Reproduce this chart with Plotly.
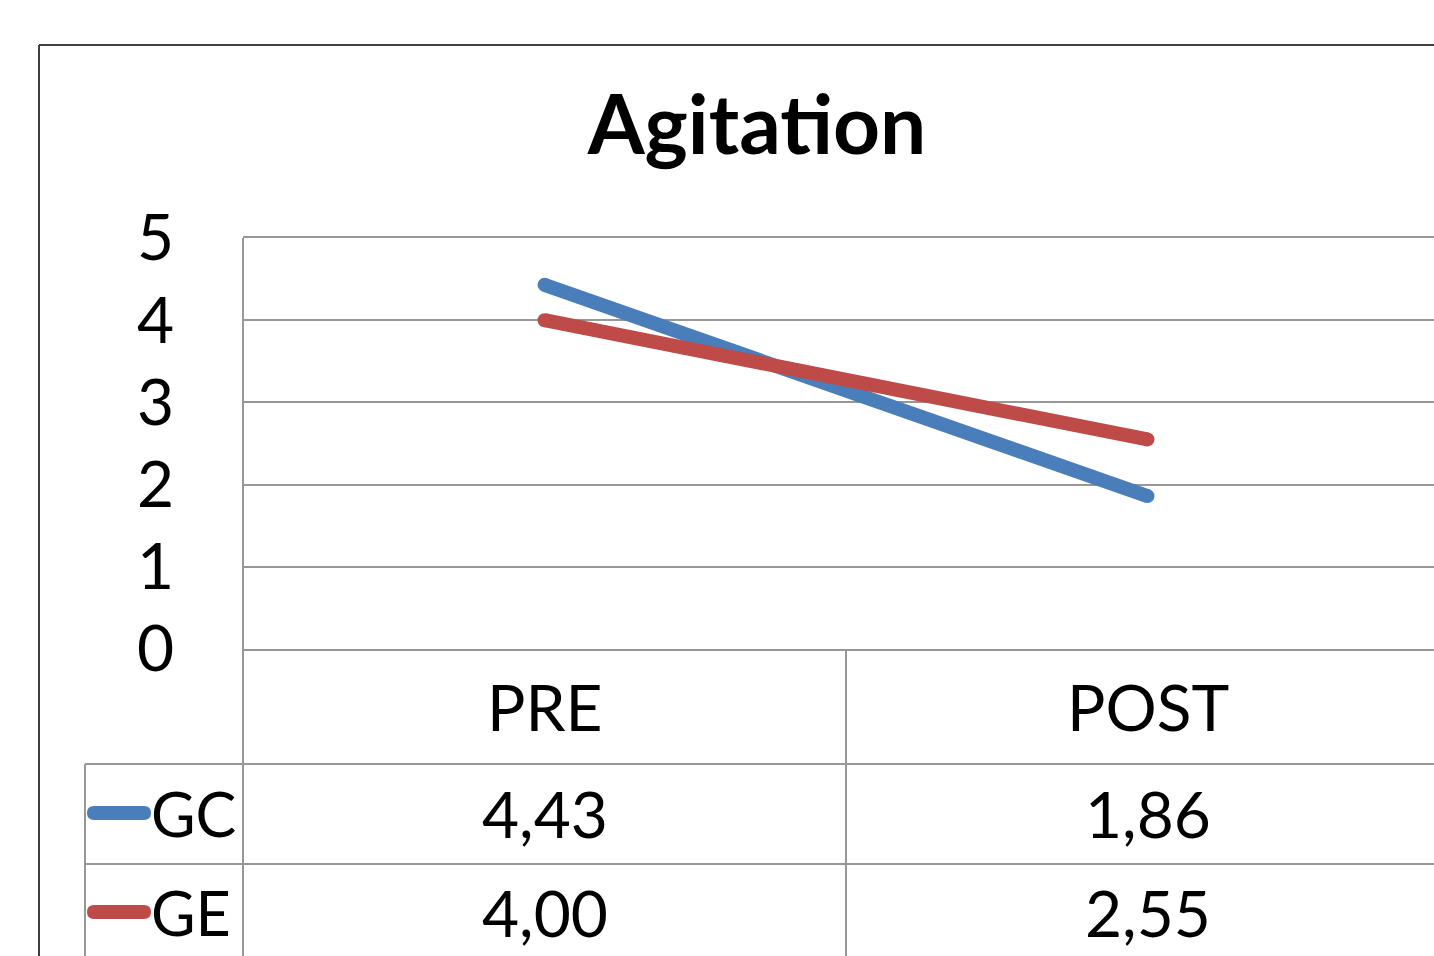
import plotly.graph_objects as go

# ---- data ----
categories = ["PRE", "POST"]
series_names = ["GC", "GE"]
gc_values = [4.43, 1.86]
ge_values = [4.00, 2.55]
y_ticks = [0, 1, 2, 3, 4, 5]
title_text = "Agitation"

colors = {"GC": "#4A7EBB", "GE": "#BE4B48"}
FONT = "Lato, 'Open Sans', sans-serif"
GRID = "#979797"

W, H = 1434, 956
L, T = 243, 238
PLOT_BOTTOM = 649
B = H - PLOT_BOTTOM
PW = W - L
PH = PLOT_BOTTOM - T


def px_x(px):
    return (px - L) / PW


def px_y(py):
    return (PLOT_BOTTOM - py) / PH


fig = go.Figure()
values = {"GC": gc_values, "GE": ge_values}
for name in series_names:
    fig.add_trace(go.Scatter(
        x=categories, y=values[name], name=name, mode="lines+markers",
        line=dict(color=colors[name], width=14),
        marker=dict(color=colors[name], size=14, line=dict(width=0)),
        showlegend=False, hoverinfo="skip",
    ))

shapes = []
# outer chart border (left + top)
shapes.append(dict(type="line", xref="paper", yref="paper",
                   x0=px_x(39), x1=px_x(39), y0=px_y(45), y1=px_y(H + 20),
                   line=dict(color="#404040", width=2)))
shapes.append(dict(type="line", xref="paper", yref="paper",
                   x0=px_x(39), x1=px_x(W + 20), y0=px_y(45), y1=px_y(45),
                   line=dict(color="#404040", width=2)))
# data table grid
shapes.append(dict(type="line", xref="paper", yref="paper",
                   x0=0, x1=0, y0=1, y1=px_y(H + 20),
                   line=dict(color=GRID, width=2)))
shapes.append(dict(type="line", xref="paper", yref="paper",
                   x0=px_x(846), x1=px_x(846), y0=0, y1=px_y(H + 20),
                   line=dict(color=GRID, width=2)))
shapes.append(dict(type="line", xref="paper", yref="paper",
                   x0=px_x(85), x1=px_x(85), y0=px_y(764), y1=px_y(H + 20),
                   line=dict(color=GRID, width=2)))
for row_y in (764, 864):
    shapes.append(dict(type="line", xref="paper", yref="paper",
                       x0=px_x(85), x1=px_x(W + 20), y0=px_y(row_y), y1=px_y(row_y),
                       line=dict(color=GRID, width=2)))

# legend keys (rounded bars) inside the table row headers
key_rows = {"GC": 813, "GE": 912}
for name in series_names:
    r = 7
    half = 32
    path = (f"M {-half + r},{-r} L {half - r},{-r} Q {half},{-r} {half},0 "
            f"Q {half},{r} {half - r},{r} L {-half + r},{r} "
            f"Q {-half},{r} {-half},0 Q {-half},{-r} {-half + r},{-r} Z")
    shapes.append(dict(type="path", xref="paper", yref="paper",
                       xsizemode="pixel", ysizemode="pixel",
                       xanchor=px_x(119), yanchor=px_y(key_rows[name]),
                       path=path, fillcolor=colors[name],
                       line=dict(width=0)))

annotations = []
# column headers
for cat in categories:
    annotations.append(dict(x=cat, xref="x", y=px_y(706), yref="paper",
                            text=cat, showarrow=False, xanchor="center", yanchor="middle",
                            font=dict(family=FONT, size=64, color="black")))
# row headers + values
for name in series_names:
    annotations.append(dict(x=px_x(149), xref="paper", y=px_y(key_rows[name]), yref="paper",
                            text=name, showarrow=False, xanchor="left", yanchor="middle",
                            font=dict(family=FONT, size=61, color="black")))
    for cat, v in zip(categories, values[name]):
        annotations.append(dict(x=cat, xref="x", y=px_y(key_rows[name]), yref="paper",
                                text=f"{v:.2f}".replace(".", ","), showarrow=False,
                                xanchor="center", yanchor="middle",
                                font=dict(family=FONT, size=64, color="black")))

fig.update_layout(
    width=W, height=H,
    margin=dict(l=L, r=0, t=T, b=B, pad=0),
    paper_bgcolor="white", plot_bgcolor="white",
    title=dict(text=title_text, x=757 / W, xref="container", xanchor="center",
               y=1 - 125 / H, yref="container", yanchor="middle",
               font=dict(family=FONT, size=82, color="black", weight="bold")),
    xaxis=dict(type="category", categoryorder="array", categoryarray=categories,
               range=[-0.5, 1.5 - (1449 - W) / 603], showticklabels=False,
               showgrid=False, zeroline=False, showline=True, mirror=True,
               linecolor=GRID, linewidth=2, ticks=""),
    yaxis=dict(range=[0, 5], tickvals=y_ticks, ticktext=[str(t) for t in y_ticks],
               showgrid=True, gridcolor=GRID, gridwidth=2, zeroline=False,
               showline=False, ticks="", ticklabelstandoff=68,
               tickfont=dict(family=FONT, size=64, color="black")),
    shapes=shapes, annotations=annotations,
    showlegend=False,
)

fig.write_html("out.html", config={"displayModeBar": False},
               post_script="document.body.style.margin='0';document.body.style.overflow='hidden';")
